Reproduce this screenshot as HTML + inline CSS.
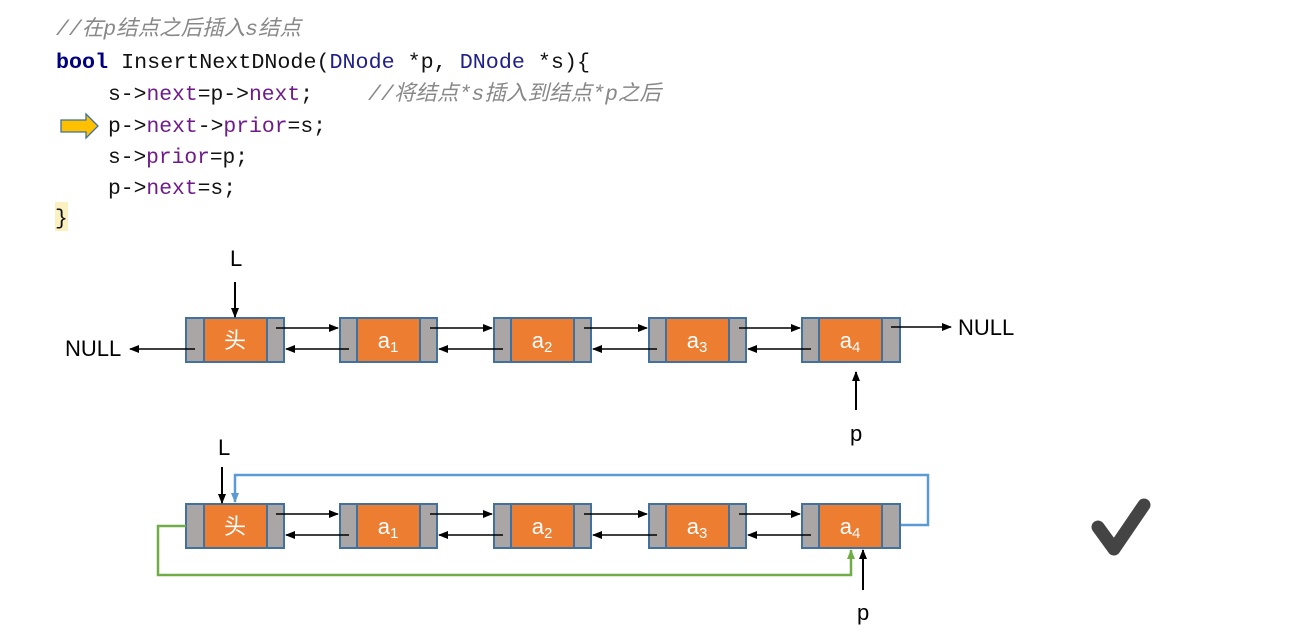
<!DOCTYPE html>
<html><head><meta charset="utf-8"><style>
html,body{margin:0;padding:0;background:#fff;}
svg{display:block;}
.c{font-family:"Liberation Mono","Noto Sans CJK SC",monospace;font-size:21.3px;fill:#111;}
.cm{fill:#888;font-style:italic;}
.kw{fill:#000080;font-weight:bold;}
.ty{fill:#20208a;}
.f{fill:#6e1a8a;}
.lbl{font-family:"Liberation Sans","Noto Sans CJK SC",sans-serif;font-size:22px;fill:#000;}
.nd{font-family:"Liberation Sans","Noto Sans CJK SC",sans-serif;font-size:22px;fill:#fff;}
</style></head><body>
<svg width="1289" height="637" viewBox="0 0 1289 637" xmlns="http://www.w3.org/2000/svg">
<defs>
<marker id="ab" markerWidth="10" markerHeight="8" refX="9" refY="4" orient="auto" markerUnits="userSpaceOnUse"><path d="M0,0 L10,4 L0,8 z" fill="#000"/></marker>
<marker id="abl" markerWidth="10" markerHeight="8" refX="9" refY="4" orient="auto" markerUnits="userSpaceOnUse"><path d="M0,0 L10,4 L0,8 z" fill="#5b9bd5"/></marker>
<marker id="agr" markerWidth="10" markerHeight="8" refX="9" refY="4" orient="auto" markerUnits="userSpaceOnUse"><path d="M0,0 L10,4 L0,8 z" fill="#70ad47"/></marker>
</defs>
<text class="c cm" x="56" y="35" textLength="245" lengthAdjust="spacingAndGlyphs">//在p结点之后插入s结点</text>
<text class="c" x="56" y="68" textLength="534" lengthAdjust="spacingAndGlyphs"><tspan class="kw">bool</tspan> InsertNextDNode(<tspan class="ty">DNode</tspan> *p, <tspan class="ty">DNode</tspan> *s){</text>
<text class="c" x="108" y="100" textLength="205" lengthAdjust="spacingAndGlyphs">s-&gt;<tspan class="f">next</tspan>=p-&gt;<tspan class="f">next</tspan>;</text>
<text class="c cm" x="368" y="100" textLength="293" lengthAdjust="spacingAndGlyphs">//将结点*s插入到结点*p之后</text>
<text class="c" x="108" y="132" textLength="218" lengthAdjust="spacingAndGlyphs">p-&gt;<tspan class="f">next</tspan>-&gt;<tspan class="f">prior</tspan>=s;</text>
<text class="c" x="108" y="163" textLength="140" lengthAdjust="spacingAndGlyphs">s-&gt;<tspan class="f">prior</tspan>=p;</text>
<text class="c" x="108" y="194" textLength="128" lengthAdjust="spacingAndGlyphs">p-&gt;<tspan class="f">next</tspan>=s;</text>
<rect x="55" y="202" width="13" height="29" fill="#fbf1c0"/>
<text class="c" x="55" y="224">}</text>
<path d="M61,120 H86 V114 L98,126 L86,138 V132 H61 Z" fill="#ffc000" stroke="#41719c" stroke-width="1.3"/>

<g stroke="#41719c" stroke-width="2">
<rect x="186" y="318" width="98" height="44" fill="#a9a6a5"/><rect x="204" y="318" width="63" height="44" fill="#ed7d31"/>
<rect x="340" y="318" width="97" height="44" fill="#a9a6a5"/><rect x="357" y="318" width="63" height="44" fill="#ed7d31"/>
<rect x="494" y="318" width="97" height="44" fill="#a9a6a5"/><rect x="511" y="318" width="63" height="44" fill="#ed7d31"/>
<rect x="649" y="318" width="97" height="44" fill="#a9a6a5"/><rect x="666" y="318" width="63" height="44" fill="#ed7d31"/>
<rect x="802" y="318" width="98" height="44" fill="#a9a6a5"/><rect x="819" y="318" width="63" height="44" fill="#ed7d31"/>
</g>
<text class="nd" x="235" y="348" text-anchor="middle">头</text>
<text class="nd" x="388" y="348" text-anchor="middle">a<tspan font-size="15" dy="4">1</tspan></text>
<text class="nd" x="542" y="348" text-anchor="middle">a<tspan font-size="15" dy="4">2</tspan></text>
<text class="nd" x="697" y="348" text-anchor="middle">a<tspan font-size="15" dy="4">3</tspan></text>
<text class="nd" x="850" y="348" text-anchor="middle">a<tspan font-size="15" dy="4">4</tspan></text>
<g stroke="#000" stroke-width="1.5" marker-end="url(#ab)">
<line x1="276" y1="328" x2="338" y2="328"/>
<line x1="430" y1="328" x2="492" y2="328"/>
<line x1="584" y1="328" x2="647" y2="328"/>
<line x1="739" y1="328" x2="800" y2="328"/>
<line x1="349" y1="349" x2="286" y2="349"/>
<line x1="503" y1="349" x2="439" y2="349"/>
<line x1="657" y1="349" x2="593" y2="349"/>
<line x1="811" y1="349" x2="748" y2="349"/>
<line x1="195" y1="349" x2="130" y2="349"/>
<line x1="891" y1="327" x2="951" y2="327"/>
</g>
<g stroke="#000" stroke-width="2" marker-end="url(#ab)">
<line x1="235" y1="282" x2="235" y2="317"/>
<line x1="856" y1="410" x2="856" y2="372"/>
</g>
<text class="lbl" x="65" y="356">NULL</text>
<text class="lbl" x="958" y="335">NULL</text>
<text class="lbl" x="230" y="266">L</text>
<text class="lbl" x="850" y="441">p</text>

<g stroke="#41719c" stroke-width="2">
<rect x="186" y="504" width="98" height="44" fill="#a9a6a5"/><rect x="204" y="504" width="63" height="44" fill="#ed7d31"/>
<rect x="340" y="504" width="97" height="44" fill="#a9a6a5"/><rect x="357" y="504" width="63" height="44" fill="#ed7d31"/>
<rect x="494" y="504" width="97" height="44" fill="#a9a6a5"/><rect x="511" y="504" width="63" height="44" fill="#ed7d31"/>
<rect x="649" y="504" width="97" height="44" fill="#a9a6a5"/><rect x="666" y="504" width="63" height="44" fill="#ed7d31"/>
<rect x="802" y="504" width="98" height="44" fill="#a9a6a5"/><rect x="819" y="504" width="63" height="44" fill="#ed7d31"/>
</g>
<text class="nd" x="235" y="534" text-anchor="middle">头</text>
<text class="nd" x="388" y="534" text-anchor="middle">a<tspan font-size="15" dy="4">1</tspan></text>
<text class="nd" x="542" y="534" text-anchor="middle">a<tspan font-size="15" dy="4">2</tspan></text>
<text class="nd" x="697" y="534" text-anchor="middle">a<tspan font-size="15" dy="4">3</tspan></text>
<text class="nd" x="850" y="534" text-anchor="middle">a<tspan font-size="15" dy="4">4</tspan></text>
<g stroke="#000" stroke-width="1.5" marker-end="url(#ab)">
<line x1="276" y1="514" x2="338" y2="514"/>
<line x1="430" y1="514" x2="492" y2="514"/>
<line x1="584" y1="514" x2="647" y2="514"/>
<line x1="739" y1="514" x2="800" y2="514"/>
<line x1="349" y1="535" x2="286" y2="535"/>
<line x1="503" y1="535" x2="439" y2="535"/>
<line x1="657" y1="535" x2="593" y2="535"/>
<line x1="811" y1="535" x2="748" y2="535"/>
</g>
<g stroke="#000" stroke-width="2" marker-end="url(#ab)">
<line x1="222" y1="467" x2="222" y2="503"/>
<line x1="863" y1="590" x2="863" y2="550"/>
</g>
<polyline points="901,525 928,525 928,475 235,475 235,502" fill="none" stroke="#5b9bd5" stroke-width="2.5" marker-end="url(#abl)"/>
<polyline points="186,526 158,526 158,575 851,575 851,550" fill="none" stroke="#70ad47" stroke-width="2.5" marker-end="url(#agr)"/>
<text class="lbl" x="218" y="455">L</text>
<text class="lbl" x="857" y="620">p</text>

<path d="M1098,527 L1114,549 L1144,505" fill="none" stroke="#444" stroke-width="13" stroke-linecap="round" stroke-linejoin="round"/>
</svg>
</body></html>
